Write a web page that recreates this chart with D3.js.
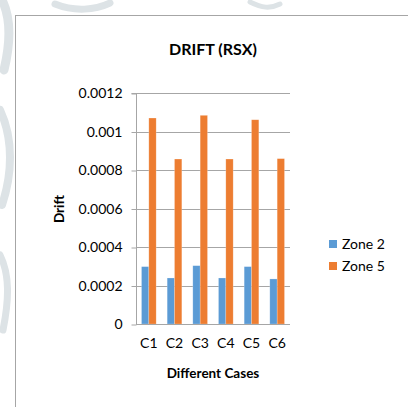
<!DOCTYPE html>
<html>
<head>
<meta charset="utf-8">
<script src="https://cdn.jsdelivr.net/npm/d3@7"></script>
<style>
  html, body { margin: 0; padding: 0; background: #fff; }
  svg { display: block; font-family: Lato, "Open Sans", sans-serif; }
</style>
</head>
<body>
<svg id="chart" width="408" height="407"></svg>
<script>
// Drift per load case for two zones
const cases = ["C1", "C2", "C3", "C4", "C5", "C6"];
const zone2 = [0.000298, 0.000239, 0.000303, 0.000239, 0.000298, 0.000234];
const zone5 = [0.00107, 0.000857, 0.001084, 0.000857, 0.001061, 0.000859];
const seriesNames = ["Zone 2", "Zone 5"];
const yTicks = [0, 0.0002, 0.0004, 0.0006, 0.0008, 0.001, 0.0012];
const yTickLabels = ["0", "0.0002", "0.0004", "0.0006", "0.0008", "0.001", "0.0012"];

const colors = { "Zone 2": "#5B9BD5", "Zone 5": "#ED7D31" };
const svg = d3.select("#chart");

// faint page pattern in the margin outside the chart frame
const wm = svg.append("g").attr("fill", "none").attr("stroke", "#dde3e6")
  .attr("stroke-linecap", "round");
wm.append("path").attr("d", "M2,0 C12,20 10,45 4,70").attr("stroke-width", 9);
wm.append("path").attr("d", "M0,110 C14,140 12,175 2,205").attr("stroke-width", 8);
wm.append("path").attr("d", "M0,255 C10,275 9,300 3,330").attr("stroke-width", 7);
wm.append("path").attr("d", "M55,4 C75,12 95,10 110,3").attr("stroke-width", 7);
wm.append("path").attr("d", "M250,2 C262,8 270,9 280,4").attr("stroke-width", 5);

// chart frame
svg.append("rect")
  .attr("x", 15.5).attr("y", 15.5)
  .attr("width", 420).attr("height", 420)
  .attr("fill", "#fff").attr("stroke", "#a6a6a6").attr("stroke-width", 1);

const plot = { left: 136, right: 290, top: 93, bottom: 324 };

const x0 = d3.scaleBand().domain(cases).range([plot.left, plot.right]).padding(0);
const x1 = d3.scaleBand().domain(seriesNames).range([0, x0.bandwidth()])
  .paddingInner(0).paddingOuter(0.75);
const y = d3.scaleLinear().domain([0, 0.0012]).range([plot.bottom, plot.top]);

// gridlines
svg.append("g").selectAll("line").data(yTicks.slice(1)).join("line")
  .attr("x1", plot.left).attr("x2", plot.right)
  .attr("y1", d => Math.round(y(d)) + 0.5).attr("y2", d => Math.round(y(d)) + 0.5)
  .attr("stroke", "#a6a6a6").attr("stroke-width", 1);

// y axis
const yAxis = d3.axisLeft(y).tickValues(yTicks)
  .tickFormat((d, i) => yTickLabels[i]).tickSize(5).tickPadding(9);
const gy = svg.append("g").attr("transform", `translate(${plot.left + 0.5},0.5)`).call(yAxis);
gy.select(".domain").attr("stroke", "#a6a6a6").attr("d", `M-5,${plot.top}H0V${plot.bottom}`);
gy.selectAll(".tick line").attr("stroke", "#a6a6a6");
gy.selectAll(".tick text").attr("fill", "#000").style("font-size", "14px")
  .style("font-family", "Lato, 'Open Sans', sans-serif");

// bars
const data = cases.map((c, i) => ({ c, vals: [
  { s: "Zone 2", v: zone2[i] }, { s: "Zone 5", v: zone5[i] }] }));
svg.append("g").selectAll("g").data(data).join("g")
  .attr("transform", d => `translate(${x0(d.c)},0)`)
  .selectAll("rect").data(d => d.vals).join("rect")
  .attr("x", d => x1(d.s)).attr("width", x1.bandwidth())
  .attr("y", d => y(d.v)).attr("height", d => y(0) - y(d.v))
  .attr("fill", d => colors[d.s])
  .attr("stroke", "#fff").attr("stroke-opacity", 0.35).attr("stroke-width", 0.6);

// x axis
const xAxis = d3.axisBottom(x0).tickSize(0).tickPadding(14);
const gx = svg.append("g").attr("transform", `translate(0,${plot.bottom + 0.5})`).call(xAxis);
gx.select(".domain").attr("stroke", "#a6a6a6").attr("d", `M${plot.left},0H${plot.right}`);
gx.selectAll(".tick text").attr("fill", "#000").style("font-size", "14px")
  .style("font-family", "Lato, 'Open Sans', sans-serif");

// titles
svg.append("text").attr("x", 213).attr("y", 55).attr("text-anchor", "middle")
  .style("font-size", "16px").style("font-weight", "bold").text("DRIFT (RSX)");
svg.append("text").attr("x", 213).attr("y", 378).attr("text-anchor", "middle")
  .style("font-size", "13.5px").style("font-weight", "bold").text("Different Cases");
svg.append("text").attr("transform", "translate(64,209) rotate(-90)")
  .attr("text-anchor", "middle")
  .style("font-size", "13.5px").style("font-weight", "bold").text("Drift");

// legend
const legend = svg.append("g").attr("transform", "translate(329,0)");
const legendY = { "Zone 2": 244, "Zone 5": 266 };
seriesNames.forEach(s => {
  legend.append("rect").attr("x", 0).attr("y", legendY[s] - 4)
    .attr("width", 8).attr("height", 8).attr("fill", colors[s]);
  legend.append("text").attr("x", 13).attr("y", legendY[s] + 5)
    .style("font-size", "14px").text(s);
});
</script>
</body>
</html>
